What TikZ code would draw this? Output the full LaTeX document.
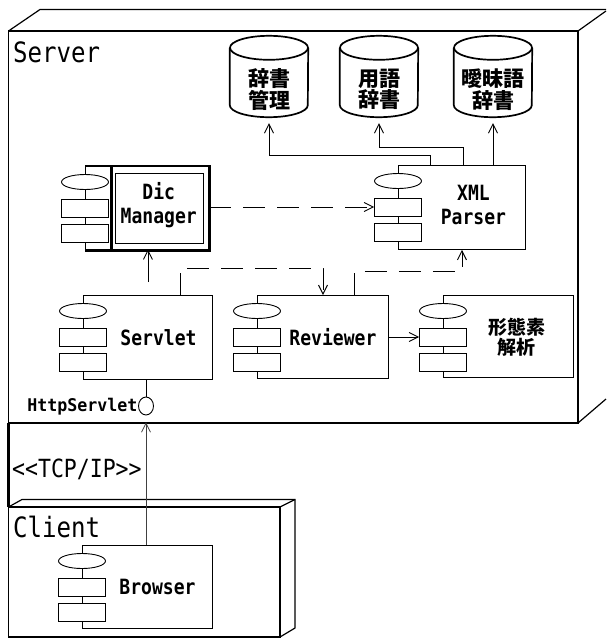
\documentclass[tikz,border=0pt]{standalone}
\usepackage{fontspec}
\newfontfamily\mono[FakeStretch=0.86]{DejaVu Sans Mono}
\newfontfamily\monob[FakeStretch=0.95]{DejaVu Sans Mono}
\newfontfamily\jp{Noto Sans CJK JP}
\usetikzlibrary{arrows.meta,shapes.geometric}
\tikzset{
  comp/.style={rectangle, draw, line width=0.9pt, inner sep=0pt, anchor=north west},
  plainbox/.style={rectangle, inner sep=0pt, anchor=north west},
  icoell/.style={ellipse, draw, fill=white, line width=0.9pt, minimum width=47pt, minimum height=15pt, inner sep=0pt},
  icorect/.style={rectangle, draw, fill=white, line width=0.9pt, minimum width=47pt, minimum height=18pt, inner sep=0pt},
  lbl/.style={font=\mono\bfseries\fontsize{21}{24}\selectfont, align=center, inner sep=0pt},
  jlbl/.style={font=\jp\bfseries\fontsize{19}{20.5}\selectfont, align=center, inner sep=0pt},
  cyltxt/.style={font=\jp\bfseries\fontsize{21}{21.5}\selectfont, align=center, inner sep=0pt},
  cylbox/.style={rectangle, inner sep=0pt, minimum width=78pt, minimum height=81pt},
  cylline/.style={line width=1.7pt},
  box3d/.style={line width=1.2pt, line join=miter},
  conn/.style={line width=0.9pt},
  tip/.style={-{Straight Barb[length=9pt,width=9pt]}},
  dsh/.style={dash pattern=on 22pt off 12pt},
  big/.style={font=\mono\fontsize{28}{30}\selectfont, inner sep=0pt, anchor=base west},
}
\newcommand\compicons[1]{%
  \node[icoell] (#1-e) at ([yshift=-16pt]#1.north west) {};
  \node[icorect] (#1-r1) at ([yshift=-42pt]#1.north west) {};
  \node[icorect] (#1-r2) at ([yshift=-67pt]#1.north west) {};
}
\begin{document}
\begin{tikzpicture}[x=1pt,y=-1pt]
\useasboundingbox (0,0) rectangle (606,638);
\fill[white] (0,0) rectangle (606,638);

% Server node (3D box)
\draw[box3d] (8.5,31) rectangle (578,423);
\draw[box3d] (8.5,31) -- (40,9.5) -- (606,9.5);
\draw[box3d] (578,31) -- (606,11);
\draw[box3d] (578,423) -- (606,399);
\draw[line width=2.6pt] (8.5,423) -- (8.5,507);
\node[big] (srv) at (13,62) {Server};

% Client node (3D box)
\draw[box3d] (8.5,507) rectangle (280,637);
\draw[box3d] (8.5,507) -- (22,499.5) -- (295,499.5) -- (295,628) -- (280,637);
\draw[box3d] (280,507) -- (295,499.5);
\node[big] (cli) at (13,537) {Client};

% Databases
\node[cylbox] (c1) at (269,76.5) {};
\node[cylbox] (c2) at (379,76.5) {};
\node[cylbox] (c3) at (493,76.5) {};
\foreach \c in {c1,c2,c3} {
  \draw[cylline] ([yshift=-12pt]\c.north west) -- ([yshift=12pt]\c.south west)
    arc[start angle=180,end angle=360,x radius=39pt,y radius=12pt]
    -- ([yshift=-12pt]\c.north east);
  \draw[cylline] ([yshift=-12pt]\c.north) ellipse [x radius=39pt, y radius=12pt];
}
\node[cyltxt] (c1-t) at ([yshift=-13pt]c1.center) {辞書\\管理};
\node[cyltxt] (c2-t) at ([yshift=-13pt]c2.center) {用語\\辞書};
\node[cyltxt] (c3-t) at ([yshift=-13pt]c3.center) {曖昧語\\辞書};

% Dic Manager (active component)
\node[plainbox, minimum width=124pt, minimum height=84pt] (dm) at (85,166) {};
\draw[line width=0.9pt] (dm.north west) -- (dm.south west);
\draw[line width=2.6pt, line join=miter] (dm.north west) -- (dm.north east) -- (dm.south east) -- (dm.south west);
\draw[line width=2.6pt] ([xshift=26.5pt]dm.north west) -- ([xshift=26.5pt]dm.south west);
\draw[line width=0.8pt] ([xshift=30pt,yshift=-7pt]dm.north west) rectangle ([xshift=-6pt,yshift=7pt]dm.south east);
\compicons{dm}
\node[lbl] (dm-t) at ([xshift=11.5pt,yshift=3pt]dm.center) {Dic\\Manager};

% XML Parser
\node[comp, minimum width=127pt, minimum height=84pt] (xml) at (398,165) {};
\compicons{xml}
\node[lbl] (xml-t) at ([xshift=11.5pt,yshift=2pt]xml.center) {XML\\Parser};

% Servlet
\node[comp, minimum width=129pt, minimum height=84pt] (servlet) at (83,295) {};
\compicons{servlet}
\node[lbl] (servlet-t) at ([xshift=10.5pt]servlet.center) {Servlet};

% Reviewer
\node[comp, minimum width=131pt, minimum height=83pt] (rev) at (257,295) {};
\compicons{rev}
\node[lbl] (rev-t) at ([xshift=10pt]rev.center) {Reviewer};

% Morphological analysis
\node[comp, minimum width=130pt, minimum height=82pt] (kei) at (443,295) {};
\compicons{kei}
\node[jlbl] (kei-t) at ([xshift=8.5pt,yshift=-1pt]kei.center) {形態素\\解析};

% Browser
\node[comp, minimum width=130pt, minimum height=83pt] (browser) at (82,545) {};
\compicons{browser}
\node[lbl] (browser-t) at ([xshift=10pt]browser.center) {Browser};

% Interface lollipop
\node[ellipse, draw, line width=0.9pt, fill=white, minimum width=15pt, minimum height=18pt, inner sep=0pt] (lol) at (146,406) {};
\node[font=\monob\bfseries\fontsize{17.5}{20}\selectfont, anchor=east, inner sep=0pt] (http) at ([xshift=-0.5pt,yshift=-1pt]lol.west) {HttpServlet};
\node[font=\mono\fontsize{25}{28}\selectfont, anchor=base west, inner sep=0pt] (tcp) at (12,477) {<\kern0pt<TCP/IP>\kern0pt>};

% Connectors to databases
\draw[conn,tip,shorten >=6pt] ([xshift=32pt]xml.north west) |- ([yshift=-38pt]c1.south) -- (c1.south);
\draw[conn,tip,shorten >=6pt] ([xshift=65pt]xml.north west) |- ([yshift=-30pt]c2.south) -- (c2.south);
\draw[conn,tip,shorten >=6pt] (c3.south |- xml.north) -- (c3.south);

% Dependencies
\draw[conn,dsh,tip] (dm.east |- xml-r1.west) -- (xml-r1.west);
\draw[conn,tip,shorten <=13pt,shorten >=-1pt] (servlet.north) -- (servlet.north |- dm.south);
\draw[conn,dsh,tip] ([xshift=97pt]servlet.north west) |- ([xshift=66pt,yshift=27pt]rev.north west) -- ([xshift=66pt]rev.north west);
\draw[conn,dsh,tip] ([xshift=97pt]rev.north west) |- ([yshift=-22pt]xml.south) -- (xml.south);
\draw[conn,tip] (rev.east |- kei-r1.west) -- (kei-r1.west);

% Interface connections
\draw[conn] (servlet.south -| lol.north) -- (lol.north);
\draw[line width=0.7pt, black!75, tip, shorten >=7pt] (browser.north -| lol.south) -- (lol.south);
\end{tikzpicture}
\end{document}
